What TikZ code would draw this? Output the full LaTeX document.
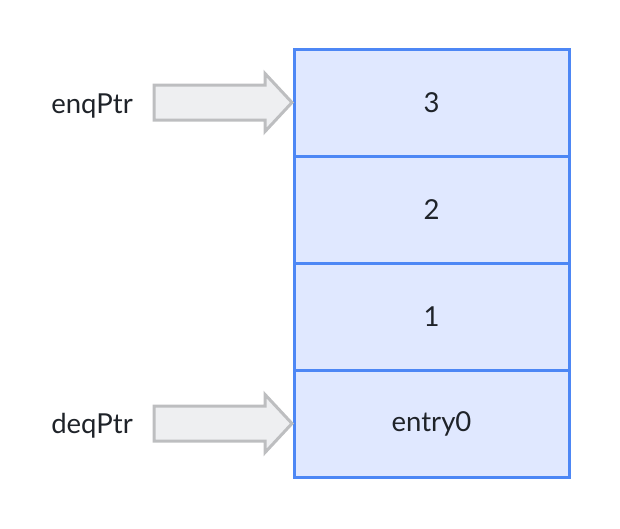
\documentclass[tikz,border=0pt]{standalone}
\usepackage{fontspec}
\setmainfont{Lato}
\usetikzlibrary{calc,positioning}
\definecolor{cellline}{HTML}{4D87F5}
\definecolor{cellfill}{HTML}{E0E8FF}
\definecolor{ptrline}{HTML}{BDBEC0}
\definecolor{ptrfill}{HTML}{EEEFF1}
\definecolor{txt}{HTML}{1F2329}
\tikzset{cell/.style={draw=cellline,fill=cellfill,line width=3pt,outer sep=0pt,
  minimum width=275pt,minimum height=107pt,inner sep=0pt,
  font=\fontsize{27.5}{32}\selectfont,text=txt}}
\tikzset{ptrlabel/.style={font=\fontsize{27.5}{32}\selectfont,text=txt,inner sep=0pt}}
\tikzset{ptr/.style={draw=ptrline,fill=ptrfill,line width=3pt,line join=miter}}

\begin{document}
\begin{tikzpicture}[x=1pt,y=-1pt]
  \useasboundingbox (0,0) rectangle (620,528);

  % queue entries
  \node[cell] (c3) at (431.5,102.5) {3};
  \node[cell,below=0pt of c3] (c2) {2};
  \node[cell,below=0pt of c2] (c1) {1};
  \node[cell,below=0pt of c1] (c0) {entry0};

  % pointer labels
  \node[ptrlabel] (enq) at (92,106) {enqPtr};
  \node[ptrlabel] (deq) at (92,426) {deqPtr};

  % pointer arrows
  \coordinate (bw) at (0,17.5);
  \coordinate (hw) at (0,29);
  \coordinate (enqtip) at ($(c3.west)+(-2,0)$);
  \coordinate (enqtail) at ($(enqtip)-(138,0)$);
  \coordinate (enqhead) at ($(enqtip)-(27,0)$);
  \draw[ptr] ($(enqtail)-(bw)$) -- ($(enqhead)-(bw)$) -- ($(enqhead)-(hw)$)
    -- (enqtip) -- ($(enqhead)+(hw)$) -- ($(enqhead)+(bw)$)
    -- ($(enqtail)+(bw)$) -- cycle;

  \coordinate (deqtip) at ($(c0.west)+(-2,0)$);
  \coordinate (deqtail) at ($(deqtip)-(138,0)$);
  \coordinate (deqhead) at ($(deqtip)-(27,0)$);
  \draw[ptr] ($(deqtail)-(bw)$) -- ($(deqhead)-(bw)$) -- ($(deqhead)-(hw)$)
    -- (deqtip) -- ($(deqhead)+(hw)$) -- ($(deqhead)+(bw)$)
    -- ($(deqtail)+(bw)$) -- cycle;
\end{tikzpicture}
\end{document}
